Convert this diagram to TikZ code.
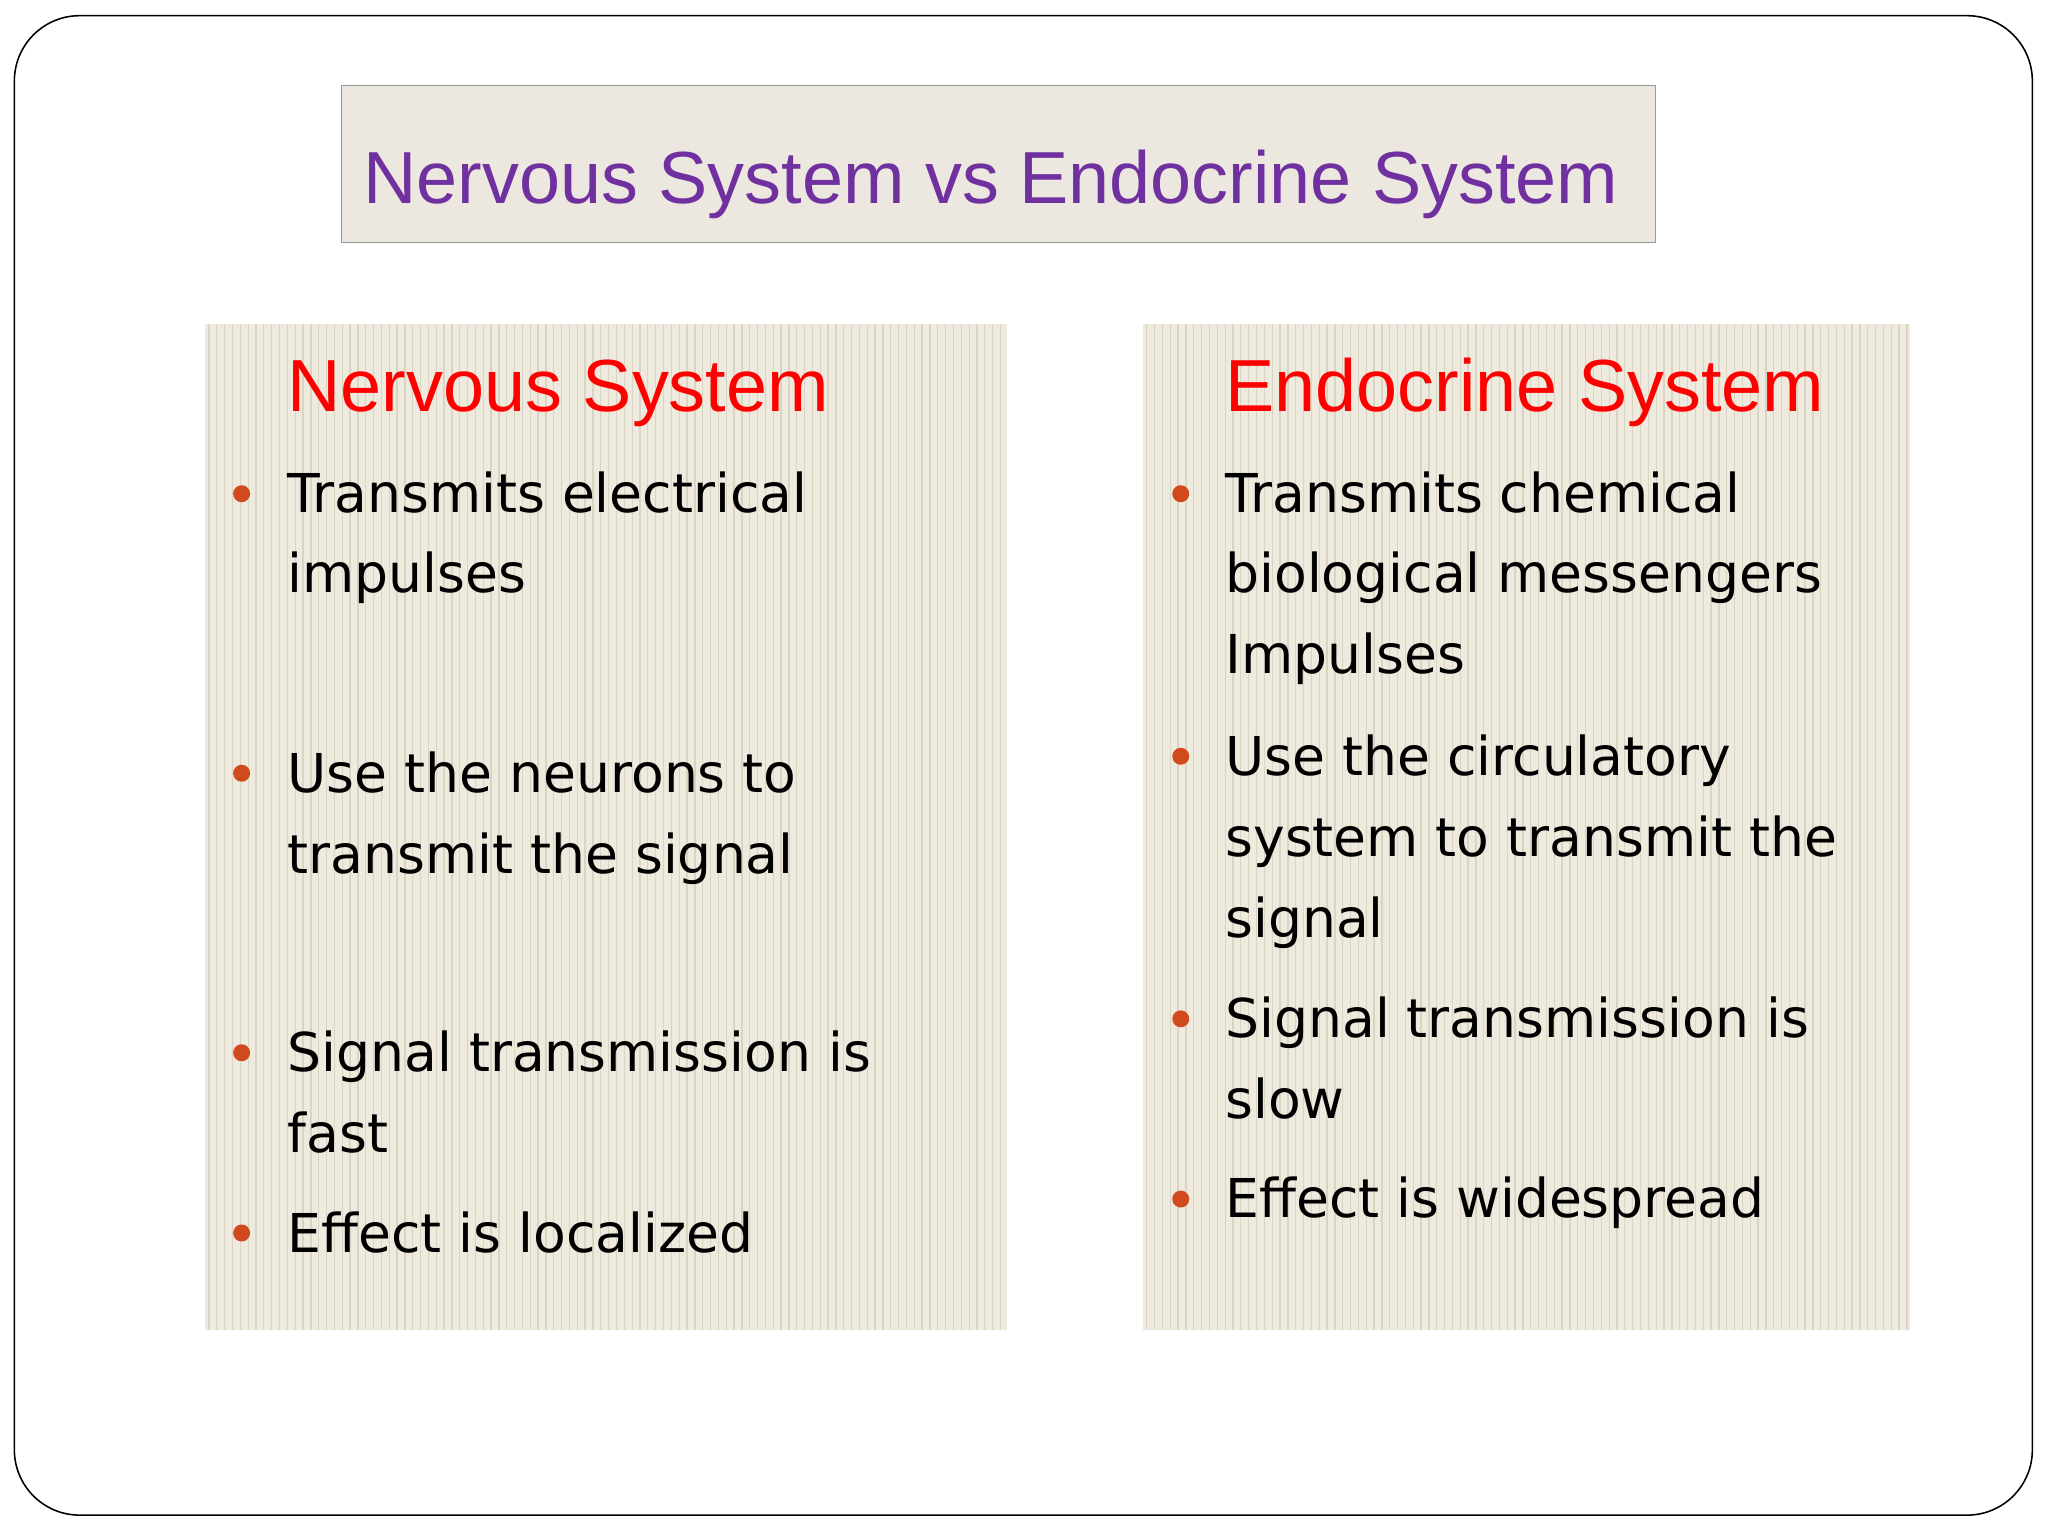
\documentclass[tikz,border=0pt]{standalone}
\usepackage{fontspec}
\setmainfont{Liberation Sans}
\newfontfamily\bodyfont{DejaVu Sans}
\definecolor{purp}{HTML}{7030A0}
\definecolor{panel}{HTML}{EEEADE}
\definecolor{stripe}{HTML}{DAD4C4}
\definecolor{bul}{HTML}{D04A1E}
\definecolor{tbox}{HTML}{ECE8E0}
\begin{document}
\begin{tikzpicture}[x=1pt,y=-1pt,
  txt/.style={anchor=base west,inner sep=0pt,font=\bodyfont\fontsize{41}{50}\selectfont},
  head/.style={anchor=base west,inner sep=0pt,text=red,font=\fontsize{56.5}{60}\selectfont},
  dot/.style={circle,fill=bul,inner sep=0pt,minimum size=13pt}]
\useasboundingbox (0,0) rectangle (1568,1176);
\fill[white] (0,0) rectangle (1568,1176);
\draw[line width=1.2pt,rounded corners=50pt] (11,12) rectangle (1556,1160);
\node[draw=black!40,fill=tbox,line width=1pt,minimum width=1006pt,minimum height=120pt,anchor=north west,inner sep=0pt] (tb) at (261,65) {};
\node[anchor=base west,inner sep=0pt,text=purp,font=\fontsize{56.5}{60}\selectfont] (title) at (278,156) {Nervous System vs Endocrine System};
% panels
\fill[panel] (157,248) rectangle (771,1018);
\foreach \x in {160,166,...,770} \draw[stripe,line width=1pt] (\x,248) -- (\x,1018);
\fill[panel] (875,248) rectangle (1462,1018);
\foreach \x in {878,884,...,1460} \draw[stripe,line width=1pt] (\x,248) -- (\x,1018);
% left
\node[head] (lh) at (220,315) {Nervous System};
\node[dot] (lb1) at (185,378) {};
\node[txt] (l1) at (220,392) {Transmits electrical};
\node[txt] (l2) at (220,454) {impulses};
\node[dot] (lb2) at (185,592) {};
\node[txt] (l3) at (220,607) {Use the neurons to};
\node[txt] (l4) at (220,669) {transmit the signal};
\node[dot] (lb3) at (185,806) {};
\node[txt] (l5) at (220,820) {Signal transmission is};
\node[txt] (l6) at (220,882) {fast};
\node[dot] (lb4) at (185,944) {};
\node[txt] (l7) at (220,959) {Effect is localized};
% right
\node[head] (rh) at (938,315) {Endocrine System};
\node[dot] (rb1) at (904,378) {};
\node[txt] (r1) at (938,392) {Transmits chemical};
\node[txt] (r2) at (938,454) {biological messengers};
\node[txt] (r3) at (938,516) {Impulses};
\node[dot] (rb2) at (904,579) {};
\node[txt] (r4) at (938,594) {Use the circulatory};
\node[txt] (r5) at (938,656) {system to transmit the};
\node[txt] (r6) at (938,718) {signal};
\node[dot] (rb3) at (904,780) {};
\node[txt] (r7) at (938,794) {Signal transmission is};
\node[txt] (r8) at (938,856) {slow};
\node[dot] (rb4) at (904,918) {};
\node[txt] (r9) at (938,932) {Effect is widespread};
\end{tikzpicture}
\end{document}
